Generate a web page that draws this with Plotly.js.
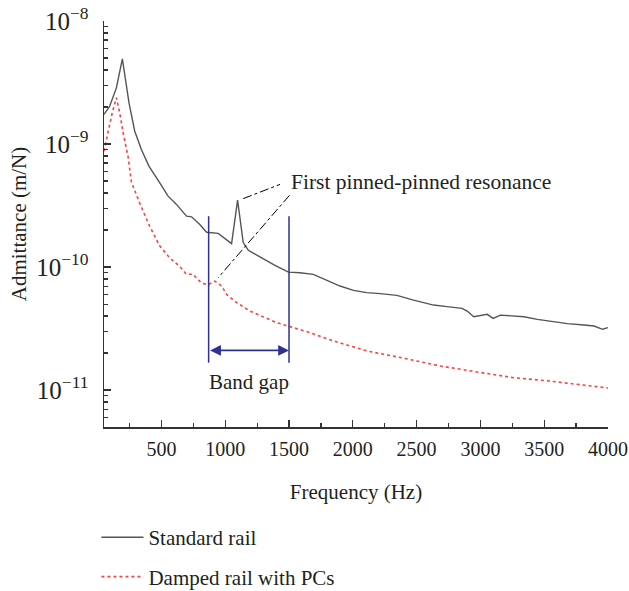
<!DOCTYPE html>
<html>
<head>
<meta charset="utf-8">
<script src="https://cdn.plot.ly/plotly-3.0.1.min.js"></script>
<style>html,body{margin:0;padding:0;background:#fff;}#chart{width:629px;height:591px;}</style>
</head>
<body>
<div id="chart"></div>
<script>
// Standard rail
const stdFreq = [50, 93, 147, 194, 246, 291, 343, 402, 486, 551, 618, 697, 736, 801, 854, 945, 1050, 1097, 1141, 1181, 1272, 1390, 1495, 1586, 1691, 1796, 1900, 2005, 2110, 2214, 2346, 2476, 2633, 2738, 2856, 2896, 2948, 3053, 3100, 3157, 3262, 3341, 3446, 3576, 3682, 3812, 3891, 3957, 4000];
const stdAdm = [1.74e-9, 2.01e-9, 2.86e-9, 4.93e-9, 2.16e-9, 1.27e-9, 9.04e-10, 6.61e-10, 4.85e-10, 3.79e-10, 3.23e-10, 2.59e-10, 2.56e-10, 2.22e-10, 1.92e-10, 1.88e-10, 1.55e-10, 3.50e-10, 1.58e-10, 1.37e-10, 1.21e-10, 1.03e-10, 9.1e-11, 9.0e-11, 8.73e-11, 7.84e-11, 7.01e-11, 6.47e-11, 6.20e-11, 6.08e-11, 5.89e-11, 5.39e-11, 4.91e-11, 4.77e-11, 4.62e-11, 4.39e-11, 3.95e-11, 4.13e-11, 3.83e-11, 4.07e-11, 3.98e-11, 3.95e-11, 3.76e-11, 3.60e-11, 3.47e-11, 3.38e-11, 3.32e-11, 3.12e-11, 3.22e-11];
// Damped rail with PCs
const dampFreq = [50, 81, 115, 147, 173, 199, 238, 265, 325, 408, 487, 565, 644, 697, 749, 815, 867, 919, 972, 1011, 1090, 1194, 1299, 1404, 1508, 1665, 1848, 2111, 2372, 2686, 3000, 3262, 3524, 3786, 4000];
const dampAdm = [8.75e-10, 1.27e-9, 1.80e-9, 2.38e-9, 1.80e-9, 1.24e-9, 7.98e-10, 4.9e-10, 3.4e-10, 2.15e-10, 1.48e-10, 1.19e-10, 1.01e-10, 8.73e-11, 8.73e-11, 7.38e-11, 7.20e-11, 7.69e-11, 7.01e-11, 6.00e-11, 5.14e-11, 4.39e-11, 3.95e-11, 3.53e-11, 3.28e-11, 2.93e-11, 2.51e-11, 2.08e-11, 1.84e-11, 1.57e-11, 1.39e-11, 1.26e-11, 1.19e-11, 1.11e-11, 1.04e-11];
// Band gap
const bandGapHz = [870, 1500];
const bandGapLineAdm = [2.59e-10, 1.67e-11];
const bandGapArrowAdm = 2.10e-11;
// Annotation leader lines (dash-dot)
const leader1Freq = [1141, 1430];
const leader1Adm = [3.6e-10, 4.7e-10];
const leader2Freq = [1503, 945];
const leader2Adm = [3.82e-10, 8.2e-11];
const resonanceLabel = {text: 'First pinned-pinned resonance', freq: 1500, adm: 4.88e-10};
const bandGapLabel = {text: 'Band gap', freq: 1185, adm: 1.17e-11};

const FONT = 'Liberation Serif, Times New Roman, serif';
const TXT = '#231f20';
const BLUE = '#2e3192';

const traces = [
  {x: stdFreq, y: stdAdm, type: 'scatter', mode: 'lines', name: 'Standard rail', legendgroup: 'a',
   line: {color: '#555555', width: 1.4}},
  {x: dampFreq, y: dampAdm, type: 'scatter', mode: 'lines', name: 'Damped rail with PCs', legendgroup: 'b',
   line: {color: '#ff4040', width: 1.6, dash: 'dot'}},
  {x: [bandGapHz[0], bandGapHz[0]], y: bandGapLineAdm, mode: 'lines', showlegend: false,
   line: {color: BLUE, width: 1.5}, hoverinfo: 'skip'},
  {x: [bandGapHz[1], bandGapHz[1]], y: bandGapLineAdm, mode: 'lines', showlegend: false,
   line: {color: BLUE, width: 1.5}, hoverinfo: 'skip'},
  {x: leader1Freq, y: leader1Adm, mode: 'lines', showlegend: false,
   line: {color: '#000', width: 1, dash: 'dashdot'}, hoverinfo: 'skip'},
  {x: leader2Freq, y: leader2Adm, mode: 'lines', showlegend: false,
   line: {color: '#000', width: 1, dash: 'dashdot'}, hoverinfo: 'skip'}
];

const layout = {
  width: 629, height: 591,
  margin: {l: 104, r: 21, t: 21, b: 164, autoexpand: false},
  paper_bgcolor: '#fff', plot_bgcolor: '#fff',
  font: {family: FONT, size: 21, color: TXT},
  showlegend: true,
  legend: {x: -0.015, xanchor: 'left', y: -0.222, yanchor: 'top',
           orientation: 'v', itemwidth: 42,
           font: {family: FONT, size: 21, color: TXT}, bgcolor: 'rgba(0,0,0,0)', tracegroupgap: 9},
  xaxis: {
    range: [50, 4000], tick0: 0, dtick: 500, ticks: 'inside', ticklen: 7, tickwidth: 1.2,
    tickcolor: '#333', showline: true, linecolor: '#333', linewidth: 1.5, showgrid: false, zeroline: false,
    automargin: false, tickangle: 0, ticklabelstandoff: 3,
    tickfont: {family: FONT, size: 20, color: TXT},
    minor: {dtick: 250, ticks: 'inside', ticklen: 4, tickwidth: 1.2, tickcolor: '#333', showgrid: false},
    title: {text: 'Frequency (Hz)', font: {family: FONT, size: 21, color: TXT}, standoff: 26}
  },
  yaxis: {
    type: 'log', range: [-11.3, -8], dtick: 1, exponentformat: 'power', showexponent: 'all',
    ticks: 'inside', ticklen: 7, tickwidth: 1.2, tickcolor: '#333', automargin: false,
    showline: true, linecolor: '#333', linewidth: 1.5, showgrid: false, zeroline: false,
    tickfont: {family: FONT, size: 20, color: TXT}, ticklabelstandoff: 10,
    minor: {dtick: 'D1', ticks: 'inside', ticklen: 4, tickwidth: 1.2, tickcolor: '#333', showgrid: false},
    title: {text: 'Admittance (m/N)', font: {family: FONT, size: 21, color: TXT}, standoff: 4}
  },
  annotations: [
    {x: resonanceLabel.freq, y: Math.log10(resonanceLabel.adm), xref: 'x', yref: 'y', text: resonanceLabel.text,
     showarrow: false, xanchor: 'left', yanchor: 'middle', font: {family: FONT, size: 21.5, color: TXT}},
    {x: bandGapLabel.freq, y: Math.log10(bandGapLabel.adm), xref: 'x', yref: 'y', text: bandGapLabel.text,
     showarrow: false, xanchor: 'center', yanchor: 'middle', font: {family: FONT, size: 21, color: TXT}},
    {x: bandGapHz[1], y: Math.log10(bandGapArrowAdm), ax: bandGapHz[0], ay: Math.log10(bandGapArrowAdm),
     xref: 'x', yref: 'y', axref: 'x', ayref: 'y', text: '', showarrow: true,
     arrowhead: 2, startarrowhead: 2, arrowside: 'end+start', arrowsize: 1.2, startarrowsize: 1.2,
     arrowwidth: 1.8, arrowcolor: BLUE, standoff: 0, startstandoff: 0}
  ]
};

Plotly.newPlot('chart', traces, layout, {displayModeBar: false, staticPlot: true});
</script>
</body>
</html>
